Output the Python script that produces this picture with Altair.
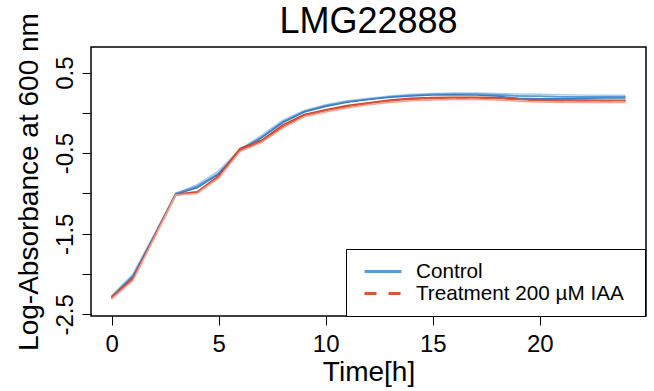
import altair as alt
import pandas as pd

# ---- data ----
hours = list(range(25))

series_names = ["Control A", "Control B", "Control C",
                "Treatment A", "Treatment B", "Treatment C"]
series_group = ["Control", "Control", "Control",
                "Treatment 200 µM IAA", "Treatment 200 µM IAA", "Treatment 200 µM IAA"]

control_a = [-2.27, -2.00, -1.50, -1.00, -0.89, -0.72, -0.45, -0.28, -0.09, 0.03, 0.10,
             0.15, 0.18, 0.21, 0.23, 0.24, 0.245, 0.245, 0.24, 0.235, 0.23, 0.225, 0.22, 0.22, 0.218]
control_b = [-2.28, -2.02, -1.52, -1.00, -0.91, -0.75, -0.46, -0.30, -0.11, 0.02, 0.09,
             0.14, 0.17, 0.20, 0.22, 0.23, 0.235, 0.235, 0.225, 0.21, 0.205, 0.20, 0.20, 0.20, 0.20]
control_c = [-2.29, -2.03, -1.53, -1.01, -0.93, -0.76, -0.47, -0.31, -0.12, 0.01, 0.08,
             0.13, 0.165, 0.195, 0.21, 0.22, 0.225, 0.22, 0.21, 0.18, 0.175, 0.175, 0.18, 0.185, 0.185]
treat_a = [-2.29, -2.05, -1.53, -1.01, -0.98, -0.78, -0.44, -0.34, -0.15, -0.02, 0.04,
           0.09, 0.125, 0.16, 0.18, 0.19, 0.195, 0.195, 0.19, 0.17, 0.163, 0.16, 0.16, 0.157, 0.157]
treat_b = [-2.30, -2.06, -1.54, -1.02, -0.99, -0.80, -0.46, -0.36, -0.17, -0.03, 0.03,
           0.08, 0.115, 0.15, 0.17, 0.18, 0.185, 0.185, 0.18, 0.165, 0.155, 0.15, 0.15, 0.15, 0.15]
treat_c = [-2.31, -2.08, -1.55, -1.02, -1.00, -0.81, -0.48, -0.37, -0.19, -0.05, 0.01,
           0.06, 0.10, 0.13, 0.15, 0.16, 0.165, 0.165, 0.16, 0.145, 0.135, 0.13, 0.13, 0.13, 0.13]

series_values = [control_a, control_b, control_c, treat_a, treat_b, treat_c]
series_colors = ["#a9cbea", "#5b9bd5", "#3b7dc4", "#cc4128", "#d9553b", "#eea597"]

legend_groups = ["Control", "Treatment 200 µM IAA"]
legend_colors = ["#5b9bd5", "#d9553b"]
legend_series = ["Control B", "Treatment B"]

x_ticks = [0, 5, 10, 15, 20]
y_ticks = [-2.5, -2.0, -1.5, -1.0, -0.5, 0.0, 0.5]
y_labelled = [-2.5, -1.5, -0.5, 0.5]

rows = []
for name, grp, vals in zip(series_names, series_group, series_values):
    for t, v in zip(hours, vals):
        rows.append({"time": t, "value": v, "series": name, "group": grp})
df = pd.DataFrame(rows)
df_leg = df[df["series"].isin(legend_series)]

FONT = "Liberation Sans"

x_enc = alt.X(
    "time:Q",
    scale=alt.Scale(domain=[-0.96, 24.96], nice=False, zero=False),
    axis=alt.Axis(
        values=x_ticks, title="Time[h]", grid=False, domain=False,
        tickSize=9, tickColor="black", tickWidth=1,
        labelFont=FONT, labelFontSize=24, labelColor="black",
        labelBaseline="alphabetic", labelPadding=26,
        titleFont=FONT, titleFontSize=28, titleFontWeight="normal",
        titleColor="black", titleBaseline="alphabetic", titleY=64,
    ),
)
label_expr = "indexof(" + str(y_labelled) + ", datum.value) >= 0 ? '' + datum.value : ''"
y_enc = alt.Y(
    "value:Q",
    scale=alt.Scale(domain=[-2.52, 0.817], nice=False, zero=False),
    axis=alt.Axis(
        values=y_ticks, labelExpr=label_expr, grid=False, domain=False,
        tickSize=9, tickColor="black", tickWidth=1,
        labelFont=FONT, labelFontSize=24, labelColor="black",
        labelAngle=270, labelAlign="center", labelBaseline="alphabetic",
        labelPadding=10,
        title="Log-Absorbance at 600 nm",
        titleFont=FONT, titleFontSize=28, titleFontWeight="normal",
        titleColor="black", titleBaseline="alphabetic", titleX=-54,
    ),
)

leg = alt.Legend(
    title=".", titleOrient="right", titleFontSize=10, titleColor="white", titlePadding=6,
    orient="none", legendX=255, legendY=202,
    padding=12, symbolOffset=5, symbolSize=1369, symbolStrokeWidth=3,
    symbolType="stroke", clipHeight=21, rowPadding=0, labelOffset=13,
    labelFont=FONT, labelFontSize=20.7, labelColor="black", labelLimit=500,
    strokeColor="black", fillColor="white",
)

legend_layer = alt.Chart(df_leg).mark_line(strokeWidth=1.5).encode(
    x=x_enc, y=y_enc,
    color=alt.Color("group:N", scale=alt.Scale(domain=legend_groups, range=legend_colors), legend=leg),
    strokeDash=alt.StrokeDash("group:N", scale=alt.Scale(domain=legend_groups, range=[[1, 0], [12, 12]]), legend=leg),
)

main = alt.Chart(df).mark_line(strokeWidth=1.5).encode(
    x=x_enc, y=y_enc,
    color=alt.Color("series:N", scale=alt.Scale(domain=series_names, range=series_colors), legend=None),
)

chart = alt.layer(legend_layer, main).resolve_scale(
    color="independent", strokeDash="independent"
).properties(
    width=555, height=269,
    padding={"left": 91, "top": 47, "right": 8, "bottom": 75},
    autosize=alt.AutoSizeParams(type="none"),
    title=alt.TitleParams("LMG22888", font=FONT, fontSize=36, fontWeight="normal",
                          color="black", anchor="middle", frame="group",
                          baseline="alphabetic", offset=-56),
    background="white",
).configure_view(stroke="black", strokeWidth=1.5)

chart.save("out.html", embed_options={"renderer": "svg", "actions": False})
